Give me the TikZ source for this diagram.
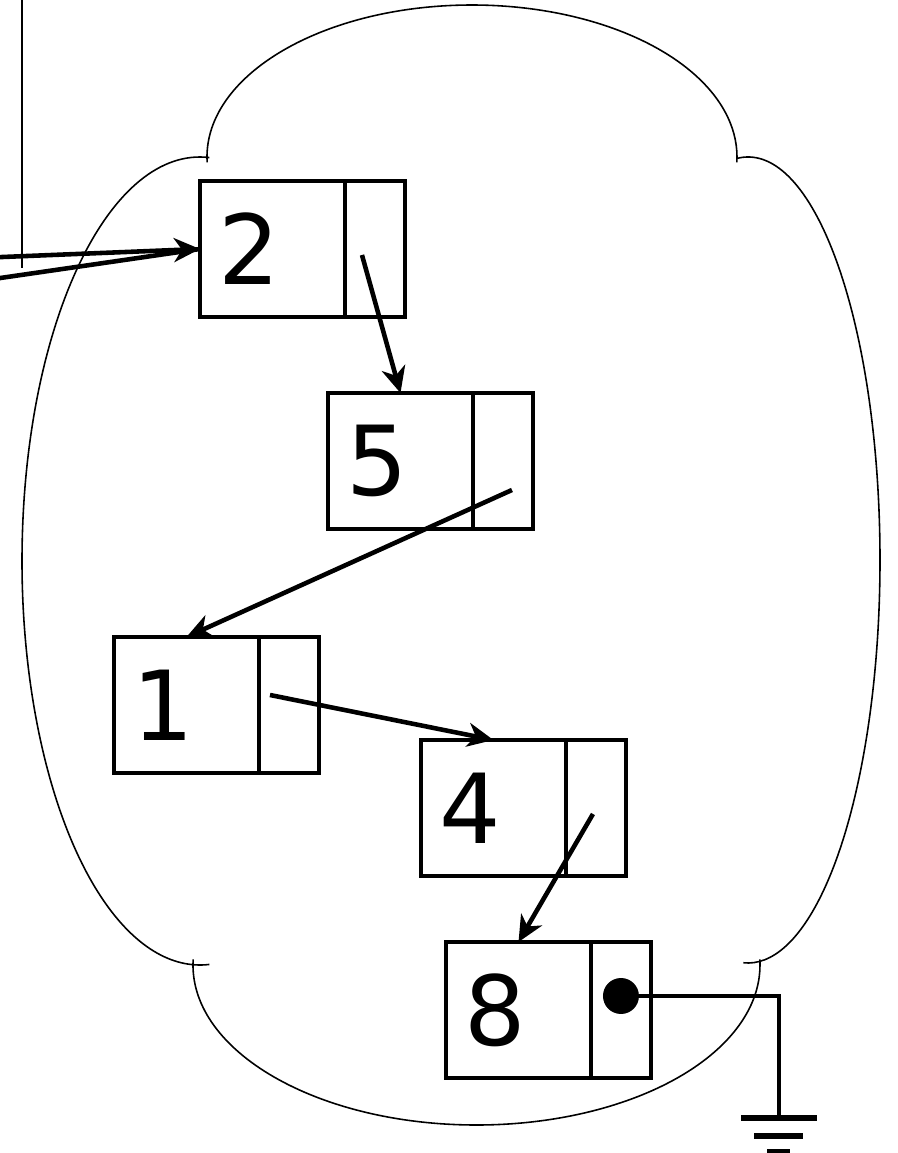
\documentclass[tikz,border=0pt]{standalone}
\usepackage{fontspec}
\setmainfont{DejaVu Sans}
\usetikzlibrary{positioning,arrows.meta}

\tikzset{
  cell/.style={draw, line width=2.8pt, anchor=north west, minimum width=2.9cm,
    minimum height=2.72cm, text width=2.16cm, align=left, inner xsep=0.37cm,
    inner ysep=0pt, outer sep=0pt, font=\fontsize{55}{60}\selectfont},
  ptr/.style={draw, line width=2.8pt, minimum width=1.2cm, minimum height=2.72cm,
    inner sep=0pt, outer sep=0pt},
  link/.style={line width=2.6pt, -{Stealth[length=0.52cm, width=0.48cm, inset=0.16cm]}},
  wire/.style={line width=2.6pt},
  cloudline/.style={line width=0.9pt}
}

\begin{document}
\begin{tikzpicture}[x=0.02cm,y=-0.02cm]
\useasboundingbox (0,0) rectangle (897,1153);

% the cloud round the list
\draw[cloudline] (472,157) ++(178:265 and 152) arc[start angle=178, end angle=362, x radius=265, y radius=152];
\draw[cloudline] (200,561) ++(273:178 and 404) arc[start angle=273, end angle=87, x radius=178, y radius=404];
\draw[cloudline] (748,560) ++(265:132 and 403) arc[start angle=265, end angle=452, x radius=132, y radius=403];
\draw[cloudline] (476.5,965) ++(182:283.5 and 160) arc[start angle=182, end angle=-2, x radius=283.5, y radius=160];

% list cells
\node[cell] (v2) at (200,181) {2};
\node[ptr, right=0pt of v2] (p2) {};
\node[cell] (v5) at (328,393) {5};
\node[ptr, right=0pt of v5] (p5) {};
\node[cell] (v1) at (114,637) {1};
\node[ptr, right=0pt of v1] (p1) {};
\node[cell] (v4) at (421,740) {4};
\node[ptr, right=0pt of v4] (p4) {};
\node[cell] (v8) at (446,942) {8};
\node[ptr, right=0pt of v8] (p8) {};

% incoming references
\coordinate (top) at (22,-5);
\coordinate (topend) at (22,268);
\coordinate (in1) at (-10,257.5);
\coordinate (in2) at (-10,279.5);
\draw[cloudline] (top) -- (topend);
\draw[link] (in1) -- (v2.west);
\draw[wire] (in2) -- (v2.west);

% next pointers
\draw[link] ([shift={(-13,6)}]p2.center) -- (v5.north);
\draw[link] ([shift={(9,29)}]p5.center) -- (v1.north);
\draw[link] ([shift={(-19,-10)}]p1.center) -- (v4.north);
\draw[link] ([shift={(-3,6)}]p4.center) -- (v8.north);

% null pointer to ground
\node[circle, fill, minimum size=0.72cm, inner sep=0pt] (dot8) at ([shift={(0,-14)}]p8.center) {};
\coordinate (gnd) at (779,1118);
\draw[wire, line width=2.8pt] (dot8.center) -- (dot8.center -| gnd) -- (gnd);
\draw[line width=3pt] ([xshift=-0.76cm]gnd) -- ([xshift=0.76cm]gnd);
\draw[line width=3pt] ([shift={(-25,18)}]gnd) -- ([shift={(24,18)}]gnd);
\draw[line width=3pt] ([shift={(-12,34)}]gnd) -- ([shift={(11,34)}]gnd);
\end{tikzpicture}
\end{document}
